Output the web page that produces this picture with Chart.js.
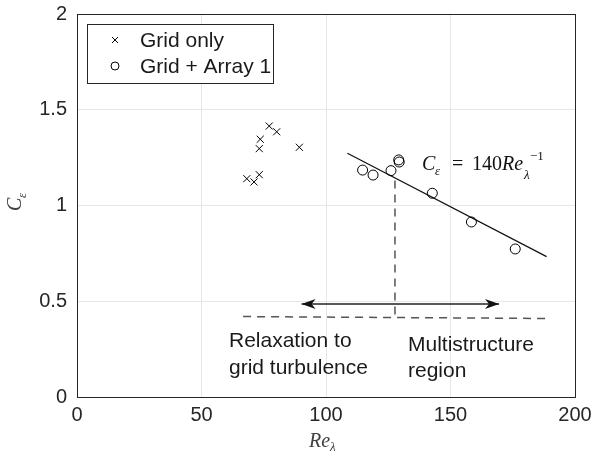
<!DOCTYPE html>
<html>
<head>
<meta charset="utf-8">
<script src="https://cdn.jsdelivr.net/npm/chart.js@4.4.1/dist/chart.umd.min.js"></script>
<style>
  html, body { margin: 0; padding: 0; background: #fff; }
  #wrap { width: 593px; height: 459px; }
</style>
</head>
<body>
<div id="wrap"><canvas id="myChart" width="593" height="459"></canvas></div>
<script>
// values
const gridOnlyRe = [68.2, 71.1, 73.2, 73.2, 73.6, 77.2, 80.2, 89.3];
const gridOnlyC  = [1.14, 1.123, 1.161, 1.297, 1.346, 1.415, 1.385, 1.304];
const arrayRe = [114.7, 118.9, 126.1, 129.2, 129.4, 142.7, 158.4, 176.0];
const arrayC  = [1.185, 1.159, 1.182, 1.238, 1.227, 1.064, 0.914, 0.773];
const fitRe = [108.6, 188.6];
const fitC  = [1.273, 0.733];
const floorRe = [66.7, 188.7];
const floorC  = [0.42, 0.41];
const splitRe = [127.7, 127.7];
const splitC  = [1.13, 0.42];
const arrowRe = [90.2, 169.5];
const arrowC  = [0.486, 0.486];
const xTicks = [0, 50, 100, 150, 200];
const yTicks = [0, 0.5, 1, 1.5, 2];
const seriesNames = ["Grid only", "Grid + Array 1"];

const pts = (xs, ys) => xs.map((x, i) => ({x: x, y: ys[i]}));
const ink = "#262626";
const sans = "'Liberation Sans', Arial, sans-serif";
const serif = "'Liberation Serif', 'DejaVu Serif', serif";

// pieces of math text: [text, font, x, y]
function drawPieces(ctx, parts) {
    parts.forEach(p => {
        ctx.font = p[1];
        ctx.fillText(p[0], p[2], p[3]);
    });
}

const extras = {
    id: "extras",
    afterDraw(chart) {
        const ctx = chart.ctx;
        const a = chart.chartArea;
        const xs = chart.scales.x, ys = chart.scales.y;
        ctx.save();

        // axes box
        ctx.strokeStyle = ink;
        ctx.lineWidth = 1;
        ctx.strokeRect(Math.round(a.left) + 0.5, Math.round(a.top) + 0.5,
                       Math.round(a.right - a.left), Math.round(a.bottom - a.top));

        // arrow heads
        const ay = ys.getPixelForValue(arrowC[0]);
        const x1 = xs.getPixelForValue(arrowRe[0]);
        const x2 = xs.getPixelForValue(arrowRe[1]);
        ctx.fillStyle = "#111";
        [[x1, 1], [x2, -1]].forEach(([px, d]) => {
            ctx.beginPath();
            ctx.moveTo(px, ay);
            ctx.lineTo(px + d * 14, ay - 5);
            ctx.lineTo(px + d * 10, ay);
            ctx.lineTo(px + d * 14, ay + 5);
            ctx.closePath();
            ctx.fill();
        });

        // region labels
        ctx.fillStyle = "#1a1a1a";
        ctx.font = "21px " + sans;
        ctx.textBaseline = "alphabetic";
        ctx.textAlign = "left";
        ctx.fillText("Relaxation to", 229, 347);
        ctx.fillText("grid turbulence", 229, 374);
        ctx.fillText("Multistructure", 408, 351);
        ctx.fillText("region", 408, 377);

        // fit equation
        ctx.fillStyle = "#111";
        drawPieces(ctx, [
            ["C", "italic 20px " + serif, 422, 170],
            ["\u03b5", "italic 13px " + serif, 435, 175],
            ["=", "20px " + serif, 452, 170],
            ["140", "20px " + serif, 472, 170],
            ["Re", "italic 20px " + serif, 502, 170],
            ["\u03bb", "italic 13px " + serif, 524, 179],
            ["\u22121", "13px " + serif, 530, 160]
        ]);

        // axis titles
        ctx.fillStyle = "#404040";
        drawPieces(ctx, [
            ["Re", "italic 20px " + serif, 309, 447],
            ["\u03bb", "italic 13px " + serif, 330, 451]
        ]);
        ctx.save();
        ctx.translate(21, 211);
        ctx.rotate(-Math.PI / 2);
        drawPieces(ctx, [
            ["C", "italic 20px " + serif, 0, 0],
            ["\u03b5", "italic 13px " + serif, 13, 5]
        ]);
        ctx.restore();

        // legend box
        ctx.fillStyle = "#fff";
        ctx.fillRect(87, 24, 186, 59);
        ctx.strokeStyle = ink;
        ctx.strokeRect(87.5, 24.5, 186, 59);
        ctx.strokeStyle = "#000";
        ctx.lineWidth = 1;
        ctx.beginPath();
        ctx.moveTo(112, 37); ctx.lineTo(118, 43);
        ctx.moveTo(118, 37); ctx.lineTo(112, 43);
        ctx.stroke();
        ctx.beginPath();
        ctx.arc(115, 66, 4, 0, Math.PI * 2);
        ctx.stroke();
        ctx.fillStyle = "#1a1a1a";
        ctx.font = "21px " + sans;
        ctx.textBaseline = "middle";
        ctx.fillText(seriesNames[0], 140, 41);
        ctx.fillText(seriesNames[1], 140, 67);

        ctx.restore();
    }
};

new Chart(document.getElementById("myChart"), {
    type: "scatter",
    data: {
        datasets: [
            {
                label: seriesNames[0],
                data: pts(gridOnlyRe, gridOnlyC),
                pointStyle: "crossRot",
                pointRadius: 5,
                borderColor: "#000",
                borderWidth: 1,
                showLine: false
            },
            {
                label: seriesNames[1],
                data: pts(arrayRe, arrayC),
                pointStyle: "circle",
                pointRadius: 5,
                backgroundColor: "rgba(0,0,0,0)",
                borderColor: "#000",
                borderWidth: 1,
                showLine: false
            },
            {
                label: "fit",
                data: pts(fitRe, fitC),
                showLine: true,
                pointRadius: 0,
                borderColor: "#111",
                borderWidth: 1.2
            },
            {
                label: "floor",
                data: pts(floorRe, floorC),
                showLine: true,
                pointRadius: 0,
                borderColor: "#555",
                borderWidth: 1.5,
                borderDash: [8, 6]
            },
            {
                label: "split",
                data: pts(splitRe, splitC),
                showLine: true,
                pointRadius: 0,
                borderColor: "#555",
                borderWidth: 1.5,
                borderDash: [8, 6]
            },
            {
                label: "arrow",
                data: pts(arrowRe, arrowC),
                showLine: true,
                pointRadius: 0,
                borderColor: "#222",
                borderWidth: 1.5
            }
        ]
    },
    options: {
        responsive: false,
        animation: false,
        layout: { padding: { left: 0, top: 14, right: 18, bottom: 0 } },
        plugins: {
            legend: { display: false },
            tooltip: { enabled: false }
        },
        scales: {
            x: {
                type: "linear",
                min: 0, max: 200,
                afterBuildTicks: s => { s.ticks = xTicks.map(v => ({value: v})); },
                afterFit: s => { s.height = 62; s.paddingLeft = 0; s.paddingRight = 0; },
                grid: { color: "#e6e6e6", drawTicks: false },
                border: { display: false },
                ticks: { color: ink, font: { family: sans, size: 20 }, padding: 6, maxRotation: 0,
                         callback: v => String(v) }
            },
            y: {
                type: "linear",
                min: 0, max: 2,
                afterBuildTicks: s => { s.ticks = yTicks.map(v => ({value: v})); },
                afterFit: s => { s.width = 77; s.paddingTop = 0; s.paddingBottom = 0; },
                grid: { color: "#e6e6e6", drawTicks: false },
                border: { display: false },
                ticks: { color: ink, font: { family: sans, size: 20 }, padding: 10,
                         callback: v => String(v) }
            }
        }
    },
    plugins: [extras]
});
</script>
</body>
</html>
